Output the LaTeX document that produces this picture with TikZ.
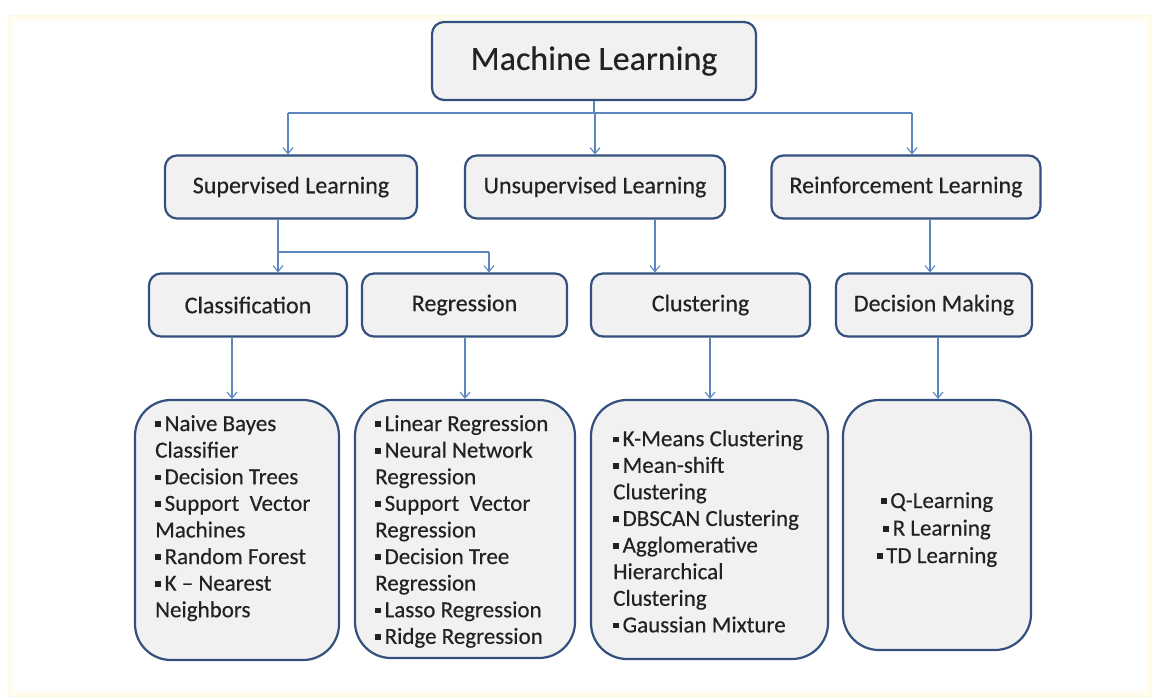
\documentclass[tikz,border=0pt]{standalone}
\usepackage{fontspec}
\setmainfont{Carlito}[FakeBold=0.35]
\usetikzlibrary{arrows.meta}
\definecolor{boxline}{HTML}{34507F}
\definecolor{boxfill}{HTML}{F1F1F1}
\definecolor{linkblue}{HTML}{5B86C0}
\definecolor{inktext}{HTML}{222222}
\definecolor{cream}{HTML}{FFFAE6}
\newcommand\sqbul{\rule[0.17em]{0.25em}{0.25em}\hspace{0.16em}}
\begin{document}
\begin{tikzpicture}[x=1pt,y=-1pt,
  box/.style={draw=boxline,fill=boxfill,line width=2.2pt,rounded corners=12pt,
    text=inktext,inner sep=0pt},
  listbox/.style={draw=boxline,fill=boxfill,line width=2.2pt,rounded corners=36pt,inner sep=0pt},
  head/.style={box,font=\fontsize{24}{28}\selectfont,minimum height=63pt},
  listtext/.style={text=inktext,inner sep=0pt,font=\fontsize{23}{26.6}\selectfont},
  link/.style={draw=linkblue,line width=1.1pt},
  arr/.style={link,-{Straight Barb[length=6pt,width=10pt,line width=1.1pt]}}]
% page and soft cream frame
\fill[white] (0,0) rectangle (1158,700);
\fill[cream] (8,15) rectangle (1152,697);
\fill[white,opacity=0.5] (10,17) rectangle (1150,695);
\fill[white] (14,21) rectangle (1146,691);
\useasboundingbox (0,0) rectangle (1158,700);

% root
\node[box,font=\fontsize{34}{40}\selectfont,minimum width=324pt,minimum height=78pt] (ml) at (594,61) {Machine Learning};

% first level
\node[head,minimum width=252pt] (sup) at (291,187) {Supervised Learning};
\node[head,minimum width=260pt] (uns) at (595,187) {Unsupervised Learning};
\node[head,minimum width=269pt] (rei) at (906,187) {Reinforcement Learning};

% second level
\node[head,minimum width=198pt] (cls) at (248,305) {Classification};
\node[head,minimum width=205pt] (reg) at (464.5,305) {Regression};
\node[head,minimum width=219pt] (clu) at (700.5,305) {Clustering};
\node[head,minimum width=196pt] (dec) at (934,305) {Decision Making};

% method lists
\node[listbox,minimum width=204pt,minimum height=260pt] (clsl) at (237,530) {};
\node[listbox,minimum width=220pt,minimum height=258pt] (regl) at (465,529) {};
\node[listbox,minimum width=237pt,minimum height=259pt] (clul) at (709.5,529.5) {};
\node[listbox,minimum width=188pt,minimum height=250pt] (decl) at (937,525) {};

\node[listtext,anchor=north west,align=left] (clst) at (155,415) {%
\sqbul Naive Bayes\\ Classifier\\ \sqbul Decision Trees\\ \sqbul Support\ \ Vector\\
Machines\\ \sqbul Random Forest\\ \sqbul K -- Nearest\\ Neighbors};
\node[listtext,anchor=north west,align=left] (regt) at (375,415) {%
\sqbul Linear Regression\\ \sqbul Neural Network\\ Regression\\ \sqbul Support\ \ Vector\\
Regression\\ \sqbul Decision Tree\\ Regression\\ \sqbul Lasso Regression\\ \sqbul Ridge Regression};
\node[listtext,anchor=north west,align=left] (clut) at (613,430) {%
\sqbul K-Means Clustering\\ \sqbul Mean-shift\\ Clustering\\ \sqbul DBSCAN Clustering\\
\sqbul Agglomerative\\ Hierarchical\\ Clustering\\ \sqbul Gaussian Mixture};
\node[listtext,anchor=north,align=center,font=\fontsize{23}{27.5}\selectfont] (dect) at (937,492) {%
\sqbul Q-Learning\\ \sqbul R Learning\\ \sqbul TD Learning};

% connector columns
\coordinate (j0) at (594,113);
\coordinate (xs) at (288,0);
\coordinate (xu) at (595,0);
\coordinate (xr) at (912,0);
\coordinate (j1) at (278,252);
\coordinate (xg) at (489,0);
\coordinate (xc) at (655,0);
\coordinate (xd) at (930,0);
\coordinate (xa) at (232,0);
\coordinate (xb) at (465,0);
\coordinate (xe) at (710,0);
\coordinate (xf) at (938,0);

% root to first level
\draw[link] (ml.south -| j0) -- (j0);
\draw[link] (j0 -| xs) -- (j0 -| xr);
\draw[arr] (j0 -| xs) -- (sup.north -| xs);
\draw[arr] (j0 -| xu) -- (uns.north -| xu);
\draw[arr] (j0 -| xr) -- (rei.north -| xr);

% first level to second level
\draw[link] (sup.south -| j1) -- (j1);
\draw[link] (j1) -- (j1 -| xg);
\draw[arr] (j1) -- (cls.north -| j1);
\draw[arr] (j1 -| xg) -- (reg.north -| xg);
\draw[arr] (uns.south -| xc) -- (clu.north -| xc);
\draw[arr] (rei.south -| xd) -- (dec.north -| xd);

% second level to lists
\draw[arr] (cls.south -| xa) -- (clsl.north -| xa);
\draw[arr] (reg.south -| xb) -- (regl.north -| xb);
\draw[arr] (clu.south -| xe) -- (clul.north -| xe);
\draw[arr] (dec.south -| xf) -- (decl.north -| xf);
\end{tikzpicture}
\end{document}
